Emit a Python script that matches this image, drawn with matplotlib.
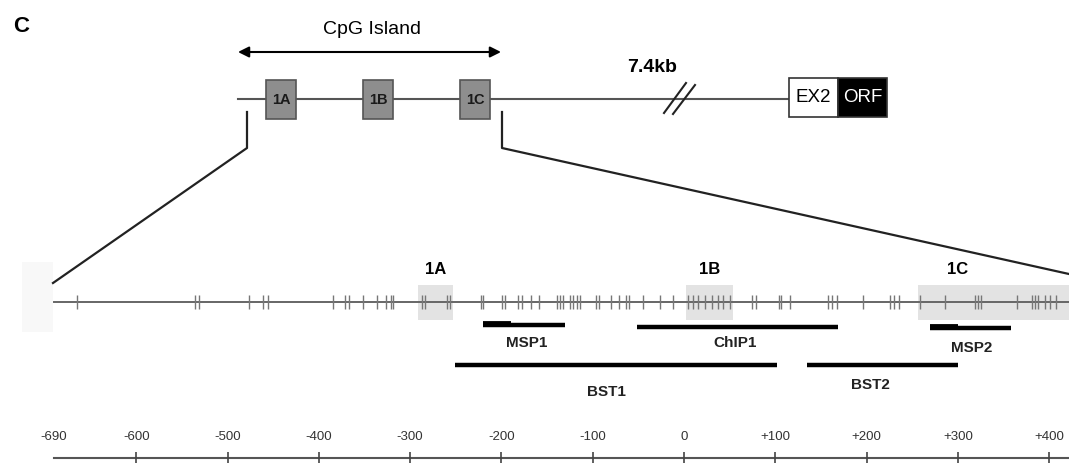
import matplotlib
matplotlib.use("Agg")
import matplotlib.pyplot as plt
from matplotlib import font_manager
from matplotlib.patches import Rectangle

# CpG sites along the promoter (bp relative to the 1B start)
cpg_sites = [-665, -536, -531, -476, -461, -456, -384, -371, -367, -352, -336, -326,
             -321, -319, -287, -284, -260, -256, -222, -220, -199, -196, -182, -177,
             -168, -159, -139, -136, -133, -125, -122, -117, -114, -96, -93, -80, -71,
             -64, -60, -45, -26, -12, 4, 10, 15, 23, 31, 37, 43, 50, 74, 79, 104, 106,
             116, 158, 162, 168, 196, 226, 230, 235, 258, 286, 319, 322, 325, 365, 381,
             384, 388, 395, 401, 407]

exon_names = ["1A", "1B", "1C"]
exon_start = [-291, 2, 256]
exon_end = [-253, 54, 430]
exon_label_x = [-272, 28, 300]

amp_names = ["MSP1", "ChIP1", "MSP2", "BST1", "BST2"]
amp_start = [-220, -51, 269, -251, 135]
amp_end = [-130, 169, 358, 102, 300]
amp_label_x = [-172, 56, 315, -85, 204]
# primer ends drawn a little heavier on the MSP products
primer_start = [-220, 269]
primer_end = [-190, 300]

axis_ticks = [-600, -500, -400, -300, -200, -100, 0, 100, 200, 300, 400]
axis_labels = ["-690", "-600", "-500", "-400", "-300", "-200", "-100", "0",
               "+100", "+200", "+300", "+400"]
axis_label_x = [-690] + axis_ticks

# top schematic (gene overview, drawing units)
top_exon_names = ["1A", "1B", "1C"]
top_exon_left = [266, 363, 460]
top_exon_width = 30

# a condensed face for the bp labels if one is installed
narrow, nsize = "Liberation Sans", 9.5
for fam, size in [("Liberation Sans Narrow", 11), ("DejaVu Sans Condensed", 9.5)]:
    try:
        font_manager.findfont(fam, fallback_to_default=False)
        narrow, nsize = fam, size
        break
    except Exception:
        pass

plt.rcParams["font.family"] = ["Liberation Sans", "DejaVu Sans"]

fig = plt.figure(figsize=(10.69, 4.63), dpi=100)
top = fig.add_axes([0, 0, 1, 1])
top.set_xlim(0, 1069)
top.set_ylim(463, 0)
top.axis("off")
ax = fig.add_axes([0, 0, 1, 1])
ax.set_xlim(-749.2, 421.7)
ax.set_ylim(463, 0)
ax.axis("off")
ax.patch.set_alpha(0)

# ---- top gene schematic ----
top.text(21, 26, "C", fontsize=16, fontweight="bold", ha="center", va="center")
top.annotate("", xy=(238, 52), xytext=(501, 52),
             arrowprops=dict(arrowstyle="<|-|>", color="black", lw=1.5,
                             mutation_scale=16, shrinkA=0, shrinkB=0))
top.text(372, 30, "CpG Island", fontsize=14, ha="center", va="center")

top.plot([238, 789], [99, 99], color="#555555", lw=1.5, zorder=1)
for name, left in zip(top_exon_names, top_exon_left):
    top.add_patch(Rectangle((left, 80), top_exon_width, 39, facecolor="#8e8e8e",
                            edgecolor="#555555", lw=1.2, zorder=2))
    top.text(left + top_exon_width / 2, 100, name, fontsize=10.5, fontweight="bold",
             ha="center", va="center", color="#1a1a1a", zorder=3)

top.plot([664, 686], [113, 83], color="#222222", lw=1.5)
top.plot([673, 695], [114, 85], color="#222222", lw=1.5)
top.text(652, 68, "7.4kb", fontsize=14, fontweight="bold", ha="center", va="center")

top.add_patch(Rectangle((789, 78), 49, 39, facecolor="white", edgecolor="#333333", lw=1.2))
top.add_patch(Rectangle((838, 78), 49, 39, facecolor="black", edgecolor="#333333", lw=1.2))
top.text(813.5, 98, "EX2", fontsize=13.5, ha="center", va="center")
top.text(862.5, 98, "ORF", fontsize=13.5, ha="center", va="center", color="white")

# zoom lines
top.plot([247, 247, 53], [112, 148, 283], color="#222222", lw=1.6)
top.plot([502, 502, 1069], [112, 148, 274], color="#222222", lw=1.6)
top.add_patch(Rectangle((22, 262), 31, 70, facecolor="#f8f8f8", edgecolor="none", zorder=0))

# ---- CpG map ----
for s, e in zip(exon_start, exon_end):
    ax.add_patch(Rectangle((s, 285), e - s, 35, facecolor="#e3e3e3", edgecolor="none", zorder=1))
for name, x in zip(exon_names, exon_label_x):
    ax.text(x, 270, name, fontsize=12, fontweight="bold", ha="center", va="center")

ax.plot([-690, 421.7], [302, 302], color="#666666", lw=1.4, zorder=2)
ax.vlines(cpg_sites, 295, 309, color="#777777", lw=1.0, zorder=3)

amp_y = [325, 327, 328, 365, 365]
amp_label_y = [343, 343, 348, 392, 385]
for name, s, e, lx, y, ly in zip(amp_names, amp_start, amp_end, amp_label_x, amp_y, amp_label_y):
    ax.plot([s, e], [y, y], color="black", lw=3.2, solid_capstyle="butt")
    ax.text(lx, ly, name, fontsize=11, fontweight="bold", ha="center", va="center",
            color="#222222")
for s, e, y in zip(primer_start, primer_end, [325, 328]):
    ax.plot([s, e], [y - 0.8, y - 0.8], color="black", lw=4.2, solid_capstyle="butt")

# ---- bp axis ----
ax.plot([-690, 421.7], [458, 458], color="#555555", lw=1.5)
ax.vlines(axis_ticks, 452, 463, color="#444444", lw=1.2)
for x, lab in zip(axis_label_x, axis_labels):
    ax.text(x, 437, lab, fontsize=nsize, family=narrow, ha="center", va="center",
            color="#333333")

fig.savefig("out.png", dpi=100)
